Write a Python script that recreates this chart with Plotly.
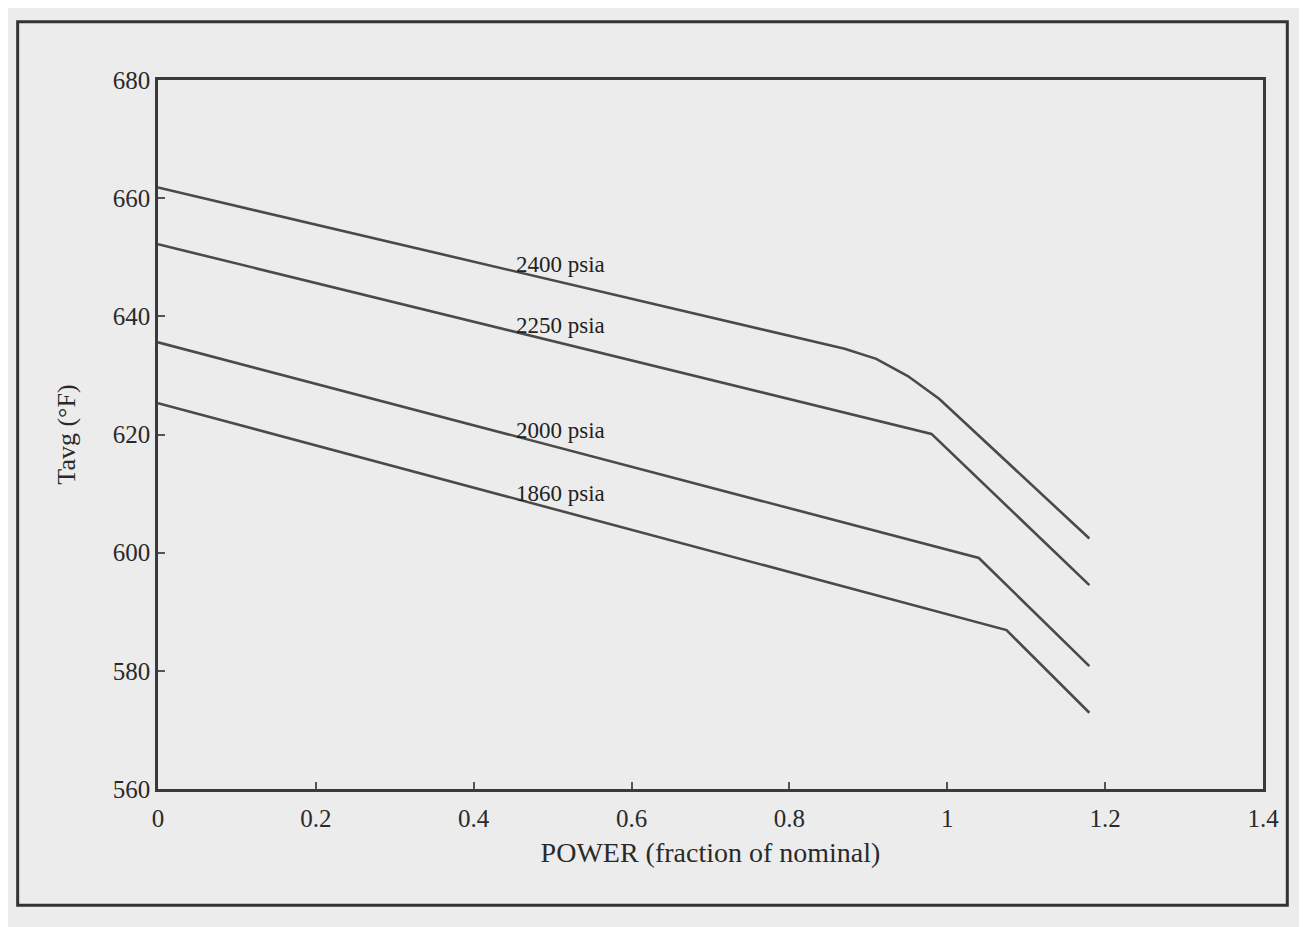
import numpy as np
import plotly.graph_objects as go

# Data
labels = ["2400 psia", "2250 psia", "2000 psia", "1860 psia"]
power_2400 = [0.0, 0.87, 0.91, 0.95, 0.99, 1.18]
tavg_2400 = [661.8, 634.5, 632.8, 629.9, 626.0, 602.4]
power_2250 = [0.0, 0.98, 1.18]
tavg_2250 = [652.2, 620.1, 594.5]
power_2000 = [0.0, 1.04, 1.18]
tavg_2000 = [635.6, 599.1, 580.8]
power_1860 = [0.0, 1.075, 1.18]
tavg_1860 = [625.3, 586.9, 572.9]

x_ticks = [0, 0.2, 0.4, 0.6, 0.8, 1, 1.2, 1.4]
y_ticks = [560, 580, 600, 620, 640, 660, 680]

series = [
    (labels[0], power_2400, tavg_2400),
    (labels[1], power_2250, tavg_2250),
    (labels[2], power_2000, tavg_2000),
    (labels[3], power_1860, tavg_1860),
]

LINE = "#4a4a4a"
BG = "#ececec"
FONT = "Liberation Serif"

fig = go.Figure()
for name, xs, ys in series:
    fig.add_trace(go.Scatter(x=xs, y=ys, mode="lines", name=name,
                             line=dict(color=LINE, width=2.6), showlegend=False))

label_x = 0.51
for name, xs, ys in series:
    yv = float(np.interp(label_x, xs, ys)) + 2.9
    fig.add_annotation(x=label_x, y=yv, text=name, showarrow=False,
                       xanchor="center", yanchor="middle",
                       font=dict(family=FONT, size=23, color="#222"))

axis_common = dict(showline=True, linecolor="#3a3a3a", linewidth=2.5, mirror=True,
                   showgrid=False, zeroline=False, ticks="inside", ticklen=7,
                   tickwidth=1.5, tickcolor="#555",
                   tickfont=dict(family=FONT, size=25, color="#2a2a2a"))

fig.update_xaxes(range=[0, 1.4], tickvals=x_ticks, ticklabelstandoff=5,
                 title=dict(text="POWER (fraction of nominal)",
                            font=dict(family=FONT, size=28, color="#2a2a2a"),
                            standoff=12),
                 **axis_common)
fig.update_yaxes(range=[560, 680], tickvals=y_ticks,
                 title=dict(text="Tavg (°F)",
                            font=dict(family=FONT, size=26, color="#2a2a2a"),
                            standoff=30),
                 **axis_common)

# outer figure frame
fig.add_shape(type="rect", xref="paper", yref="paper",
              x0=-0.127, x1=1.022, y0=-0.164, y1=1.082,
              line=dict(color="#333", width=3))

fig.update_layout(width=1299, height=919,
                  margin=dict(l=150, r=44, t=72, b=138),
                  paper_bgcolor=BG, plot_bgcolor=BG)

fig.write_html("out.html")
